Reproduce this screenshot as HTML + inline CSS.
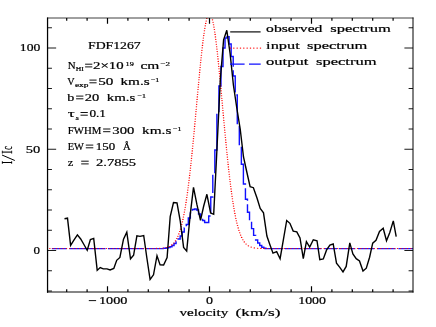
<!DOCTYPE html>
<html><head><meta charset="utf-8"><title>FDF1267 spectrum</title>
<style>html,body{margin:0;padding:0;background:#fff}svg{display:block;will-change:transform}text{font-family:"Liberation Serif",serif;fill:#000;stroke:#000;stroke-width:0.19}</style></head><body>
<svg width="436" height="327" viewBox="0 0 436 327">
<rect width="436" height="327" fill="#fff"/>
<defs><clipPath id="c"><rect x="47.55" y="18.00" width="365.45" height="274.00"/></clipPath></defs>
<g fill="none" stroke="#1010ff" stroke-width="1.2">
<line x1="51.80" y1="248.65" x2="66.80" y2="248.65"/>
<line x1="69.30" y1="248.65" x2="105.50" y2="248.65"/>
<line x1="108.00" y1="248.65" x2="144.00" y2="248.65"/>
<line x1="146.50" y1="248.65" x2="163.84" y2="248.65"/>
<line x1="264.34" y1="248.65" x2="283.00" y2="248.65"/>
<line x1="284.80" y1="248.65" x2="301.80" y2="248.65"/>
<line x1="304.00" y1="248.65" x2="321.50" y2="248.65"/>
<line x1="324.20" y1="248.65" x2="337.00" y2="248.65"/>
<line x1="338.80" y1="248.65" x2="355.30" y2="248.65"/>
<line x1="358.00" y1="248.65" x2="374.50" y2="248.65"/>
<line x1="377.00" y1="248.65" x2="395.60" y2="248.65"/>
<line x1="398.40" y1="248.65" x2="413.00" y2="248.65"/>
</g>
<path fill="none" stroke="#1010ff" stroke-width="1.4" stroke-dasharray="19.6 3.5 18.2 3.5 18.2 3.5 18.2 3.5 18.2 3.5 18.2 3.5 18.2 3.5 61.6 3.5 119.9 3.5 24.4 3.5 30.2 3.5 19.7 3.5 41.9 3.5 14.6 3.5 18.1 3.5 18.2 3.5 200 0" d="M163.84,248.65 L163.84,248.30 L165.88,248.30 L165.88,248.00 L167.92,248.00 L167.92,247.50 L169.96,247.50 L169.96,246.80 L172.00,246.80 L172.00,245.50 L174.04,245.50 L174.04,243.50 L176.08,243.50 L176.08,241.50 L178.12,241.50 L178.12,239.00 L180.16,239.00 L180.16,236.00 L182.20,236.00 L182.20,232.00 L184.24,232.00 L184.24,228.00 L186.28,228.00 L186.28,224.50 L188.32,224.50 L188.32,218.00 L190.36,218.00 L190.36,213.00 L192.40,213.00 L192.40,209.50 L194.44,209.50 L194.44,209.00 L196.48,209.00 L196.48,210.00 L198.52,210.00 L198.52,214.00 L200.56,214.00 L200.56,217.50 L202.60,217.50 L202.60,220.50 L204.64,220.50 L204.64,222.50 L206.68,222.50 L206.68,222.50 L208.72,222.50 L208.72,216.00 L210.76,216.00 L210.76,197.00 L212.80,197.00 L212.80,174.00 L214.84,174.00 L214.84,150.00 L216.88,150.00 L216.88,113.00 L218.92,113.00 L218.92,86.00 L220.96,86.00 L220.96,66.50 L223.00,66.50 L223.00,48.00 L225.04,48.00 L225.04,38.00 L227.08,38.00 L227.08,36.70 L229.12,36.70 L229.12,44.00 L231.16,44.00 L231.16,56.50 L233.20,56.50 L233.20,76.00 L235.24,76.00 L235.24,95.00 L237.28,95.00 L237.28,125.00 L239.32,125.00 L239.32,146.00 L241.36,146.00 L241.36,164.30 L243.40,164.30 L243.40,184.00 L245.44,184.00 L245.44,199.20 L247.48,199.20 L247.48,212.20 L249.52,212.20 L249.52,220.50 L251.56,220.50 L251.56,228.60 L253.60,228.60 L253.60,235.40 L255.64,235.40 L255.64,240.00 L257.68,240.00 L257.68,243.00 L259.72,243.00 L259.72,245.50 L261.76,245.50 L261.76,247.30 L263.80,247.30 L263.80,248.30 L265.84,248.30 L265.84,248.65"/>
<path transform="scale(1.354,1)" fill="none" stroke="#ff0000" stroke-width="1.15" stroke-linecap="round" d="M36.82,248.5h0M39.28,248.5h0M41.74,248.5h0M44.20,248.5h0M46.66,248.5h0M49.12,248.5h0M51.58,248.5h0M54.04,248.5h0M56.50,248.5h0M58.96,248.5h0M61.42,248.5h0M63.88,248.5h0M66.34,248.5h0M68.80,248.5h0M71.26,248.5h0M73.72,248.5h0M76.18,248.5h0M78.64,248.5h0M81.10,248.5h0M83.56,248.5h0M86.02,248.5h0M88.48,248.5h0M90.94,248.5h0M93.40,248.5h0M95.86,248.5h0M98.32,248.5h0M100.78,248.5h0M103.24,248.5h0M105.70,248.5h0M108.16,248.5h0M110.62,248.5h0M113.08,248.5h0M115.54,248.4h0M118.00,248.3h0M120.44,248.1h0M122.84,247.5h0M125.06,246.5h0M126.94,244.9h0M128.43,243.0h0M129.61,240.8h0M130.58,238.5h0M131.39,236.2h0M132.10,233.9h0M132.72,231.5h0M133.28,229.1h0M133.79,226.7h0M134.26,224.3h0M134.69,221.8h0M135.10,219.4h0M135.48,217.0h0M135.84,214.6h0M136.18,212.1h0M136.51,209.7h0M136.82,207.2h0M137.11,204.8h0M137.40,202.4h0M137.68,199.9h0M137.95,197.5h0M138.21,195.0h0M138.46,192.6h0M138.70,190.1h0M138.94,187.7h0M139.17,185.2h0M139.40,182.8h0M139.62,180.3h0M139.84,177.9h0M140.05,175.4h0M140.26,173.0h0M140.47,170.5h0M140.67,168.1h0M140.87,165.6h0M141.06,163.2h0M141.25,160.7h0M141.44,158.3h0M141.63,155.8h0M141.82,153.4h0M142.00,150.9h0M142.18,148.5h0M142.36,146.0h0M142.54,143.5h0M142.71,141.1h0M142.89,138.6h0M143.06,136.2h0M143.23,133.7h0M143.40,131.3h0M143.57,128.8h0M143.74,126.4h0M143.91,123.9h0M144.08,121.5h0M144.25,119.0h0M144.41,116.5h0M144.58,114.1h0M144.75,111.6h0M144.91,109.2h0M145.08,106.7h0M145.24,104.3h0M145.41,101.8h0M145.57,99.4h0M145.74,96.9h0M145.91,94.5h0M146.07,92.0h0M146.24,89.5h0M146.41,87.1h0M146.58,84.6h0M146.75,82.2h0M146.92,79.7h0M147.09,77.3h0M147.26,74.8h0M147.44,72.4h0M147.62,69.9h0M147.80,67.5h0M147.98,65.0h0M148.16,62.6h0M148.35,60.1h0M148.54,57.7h0M148.73,55.2h0M148.93,52.7h0M149.13,50.3h0M149.34,47.8h0M149.55,45.4h0M149.76,42.9h0M149.99,40.5h0M150.22,38.0h0M150.47,35.6h0M150.72,33.2h0M150.99,30.7h0M151.28,28.3h0M151.59,25.8h0M151.92,23.4h0M152.30,21.0h0M152.74,18.5h0M156.95,19.8h0M157.36,22.2h0M157.71,24.7h0M158.03,27.1h0M158.33,29.5h0M158.60,32.0h0M158.87,34.4h0M159.11,36.9h0M159.35,39.3h0M159.58,41.8h0M159.80,44.2h0M160.02,46.7h0M160.23,49.1h0M160.43,51.6h0M160.63,54.0h0M160.82,56.5h0M161.02,58.9h0M161.20,61.4h0M161.39,63.8h0M161.57,66.3h0M161.75,68.7h0M161.93,71.2h0M162.11,73.6h0M162.28,76.1h0M162.45,78.6h0M162.63,81.0h0M162.80,83.5h0M162.96,85.9h0M163.13,88.4h0M163.30,90.8h0M163.47,93.3h0M163.63,95.7h0M163.80,98.2h0M163.97,100.6h0M164.13,103.1h0M164.30,105.6h0M164.46,108.0h0M164.63,110.5h0M164.79,112.9h0M164.96,115.4h0M165.13,117.8h0M165.29,120.3h0M165.46,122.7h0M165.63,125.2h0M165.80,127.6h0M165.97,130.1h0M166.14,132.5h0M166.31,135.0h0M166.48,137.5h0M166.66,139.9h0M166.83,142.4h0M167.01,144.8h0M167.19,147.3h0M167.37,149.7h0M167.55,152.2h0M167.73,154.6h0M167.92,157.1h0M168.11,159.5h0M168.30,162.0h0M168.49,164.4h0M168.69,166.9h0M168.89,169.3h0M169.09,171.8h0M169.30,174.2h0M169.51,176.7h0M169.73,179.2h0M169.95,181.6h0M170.17,184.1h0M170.40,186.5h0M170.64,188.9h0M170.88,191.4h0M171.13,193.8h0M171.38,196.3h0M171.64,198.7h0M171.92,201.2h0M172.20,203.6h0M172.49,206.1h0M172.80,208.5h0M173.12,210.9h0M173.45,213.4h0M173.80,215.8h0M174.17,218.3h0M174.56,220.7h0M174.98,223.1h0M175.43,225.5h0M175.92,227.9h0M176.46,230.3h0M177.05,232.7h0M177.71,235.1h0M178.47,237.4h0M179.36,239.7h0M180.43,241.9h0M181.75,244.0h0M183.44,245.8h0M185.51,247.1h0M187.85,247.9h0M190.28,248.2h0M192.73,248.4h0M195.19,248.4h0M197.65,248.5h0M200.11,248.5h0M202.57,248.5h0M205.03,248.5h0M207.49,248.5h0M209.95,248.5h0M212.41,248.5h0M214.87,248.5h0M217.33,248.5h0M219.79,248.5h0M222.25,248.5h0M224.71,248.5h0M227.17,248.5h0M229.63,248.5h0M232.09,248.5h0M234.55,248.5h0M237.01,248.5h0M239.47,248.5h0M241.93,248.5h0M244.39,248.5h0M246.85,248.5h0M249.31,248.5h0M251.77,248.5h0M254.23,248.5h0M256.69,248.5h0M259.15,248.5h0M261.61,248.5h0M264.07,248.5h0M266.53,248.5h0M268.99,248.5h0M271.45,248.5h0M273.91,248.5h0M276.37,248.5h0M278.83,248.5h0M281.29,248.5h0M283.75,248.5h0M286.21,248.5h0M288.67,248.5h0M291.13,248.5h0M293.59,248.5h0M296.05,248.5h0M298.51,248.5h0M300.97,248.5h0M303.43,248.5h0"/>
<g transform="scale(1,1)" fill="none" stroke="#000">
<polyline stroke-width="1.4" stroke-linejoin="miter" points="64.500,218.80 67.500,218.20 70.600,245.40 73.900,240.20 77.400,234.90 80.700,239.00 83.900,244.50 87.200,250.30 90.400,239.50 93.700,238.40 97.200,270.40 100.200,267.60 103.300,268.90 107.000,268.90 110.100,270.00 113.800,268.50 116.700,260.30 119.900,257.50 123.500,239.20 126.800,232.20 130.500,258.80 133.600,255.30 136.900,235.90 140.000,236.40 143.700,235.50 146.800,257.50 150.100,279.50 153.500,274.80 157.000,255.70 160.100,264.90 163.600,265.00 167.100,257.50 170.200,216.70 173.500,202.60 177.000,202.90 180.300,221.30 183.600,247.40 186.700,251.10 190.200,214.90 193.500,187.30 196.900,204.40 200.500,220.40 203.700,206.00 206.900,194.30 210.600,213.00 213.700,214.30 217.000,148.00 220.300,80.00 223.600,39.90 226.800,30.30 230.100,53.50 233.400,85.00 236.800,108.00 240.200,129.00 243.500,157.00 246.800,172.00 250.100,186.70 253.400,187.70 257.000,198.00 260.200,208.50 263.500,212.80 266.900,236.10 270.000,245.00 273.000,253.20 276.700,251.70 280.100,258.70 283.400,239.60 286.700,220.50 289.900,223.30 293.200,231.10 296.800,231.90 300.000,237.90 303.300,258.70 306.400,241.60 309.700,247.10 313.300,239.80 317.000,240.70 319.800,259.60 323.300,259.00 326.600,249.90 329.900,245.00 333.200,244.00 336.500,263.10 339.800,267.30 343.000,271.90 346.200,266.40 349.800,242.90 352.900,253.90 356.200,258.70 359.500,260.90 363.000,271.00 366.300,268.20 369.600,257.20 372.700,243.10 376.000,240.30 379.500,231.50 383.200,228.20 386.500,240.70 389.800,232.40 393.300,220.90 396.200,236.70"/>
<line stroke-width="1.15" x1="230.200" y1="31.9" x2="260.600" y2="31.9"/>
<path stroke-width="0.75" stroke-linecap="square" d="M47.55,18.00 H413.00"/>
<path stroke-width="0.95" stroke-linecap="square" d="M47.55,292.00 H413.00"/>
<path stroke-width="1.25" stroke-linecap="square" d="M47.55,18.00 V292.00"/>
<path stroke-width="1.0" stroke-linecap="square" d="M413.00,18.00 V292.00"/>
<path stroke-width="1.2" d="M66.70,292.00V289.20M66.70,18.00V20.80M87.10,292.00V289.20M87.10,18.00V20.80M107.50,292.00V286.30M107.50,18.00V23.70M127.90,292.00V289.20M127.90,18.00V20.80M148.30,292.00V289.20M148.30,18.00V20.80M168.70,292.00V289.20M168.70,18.00V20.80M189.10,292.00V289.20M189.10,18.00V20.80M209.50,292.00V286.30M209.50,18.00V23.70M229.90,292.00V289.20M229.90,18.00V20.80M250.30,292.00V289.20M250.30,18.00V20.80M270.70,292.00V289.20M270.70,18.00V20.80M291.10,292.00V289.20M291.10,18.00V20.80M311.50,292.00V286.30M311.50,18.00V23.70M331.90,292.00V289.20M331.90,18.00V20.80M352.30,292.00V289.20M352.30,18.00V20.80M372.70,292.00V289.20M372.70,18.00V20.80M393.10,292.00V289.20M393.10,18.00V20.80"/>
<path stroke-width="0.9" d="M47.55,291.00H51.95M413.00,291.00H408.60M47.55,270.75H51.95M413.00,270.75H408.60M47.55,250.50H56.15M413.00,250.50H404.40M47.55,230.25H51.95M413.00,230.25H408.60M47.55,210.00H51.95M413.00,210.00H408.60M47.55,189.75H51.95M413.00,189.75H408.60M47.55,169.50H51.95M413.00,169.50H408.60M47.55,149.25H56.15M413.00,149.25H404.40M47.55,129.00H51.95M413.00,129.00H408.60M47.55,108.75H51.95M413.00,108.75H408.60M47.55,88.50H51.95M413.00,88.50H408.60M47.55,68.25H51.95M413.00,68.25H408.60M47.55,48.00H56.15M413.00,48.00H404.40M47.55,27.75H51.95M413.00,27.75H408.60"/>
</g>
<path transform="scale(1.354,1)" fill="none" stroke="#ff0000" stroke-width="1.15" stroke-linecap="round" d="M170.24,48.05h0M172.70,48.05h0M175.16,48.05h0M177.61,48.05h0M180.07,48.05h0M182.53,48.05h0M184.99,48.05h0M187.45,48.05h0M189.91,48.05h0M192.37,48.05h0"/>
<path fill="none" stroke="#1010ff" stroke-width="1.3" d="M230.0,64.2 H244.6 M249.0,64.2 H260.7"/>
<text transform="translate(88.00,48.50) scale(1.5,1)" font-size="9.5" textLength="35.13" lengthAdjust="spacingAndGlyphs">FDF1267</text>
<text transform="translate(67.70,68.70) scale(1.5,1)" font-size="9.5" textLength="5.27" lengthAdjust="spacingAndGlyphs">N</text>
<text transform="translate(75.80,71.40) scale(1.5,1)" font-size="6.2" stroke-width="0.32" textLength="5.40" lengthAdjust="spacingAndGlyphs">HI</text>
<path fill="none" stroke="#111" stroke-width="1.0" d="M85.10,64.20 H92.30 M85.10,66.90 H92.30"/>
<text transform="translate(93.00,68.70) scale(1.5,1)" font-size="9.5" textLength="20.40" lengthAdjust="spacingAndGlyphs">2×10</text>
<text transform="translate(125.50,65.60) scale(1.5,1)" font-size="6.2" stroke-width="0.32" textLength="5.53" lengthAdjust="spacingAndGlyphs">19</text>
<text transform="translate(140.50,68.70) scale(1.5,1)" font-size="9.5" textLength="12.60" lengthAdjust="spacingAndGlyphs">cm</text>
<text transform="translate(160.40,66.30) scale(1.5,1)" font-size="6.2" stroke-width="0.32" textLength="6.40" lengthAdjust="spacingAndGlyphs">−2</text>
<text transform="translate(67.30,84.60) scale(1.5,1)" font-size="9.5" textLength="4.93" lengthAdjust="spacingAndGlyphs">V</text>
<text transform="translate(74.90,87.20) scale(1.5,1)" font-size="6.2" stroke-width="0.32" textLength="9.00" lengthAdjust="spacingAndGlyphs">exp</text>
<path fill="none" stroke="#111" stroke-width="1.0" d="M89.40,80.10 H96.60 M89.40,82.80 H96.60"/>
<text transform="translate(98.20,84.60) scale(1.5,1)" font-size="9.5" textLength="10.13" lengthAdjust="spacingAndGlyphs">50</text>
<text transform="translate(120.50,84.60) scale(1.5,1)" font-size="9.5" textLength="19.47" lengthAdjust="spacingAndGlyphs">km.s</text>
<text transform="translate(150.90,82.20) scale(1.5,1)" font-size="6.2" stroke-width="0.32" textLength="5.60" lengthAdjust="spacingAndGlyphs">−1</text>
<text transform="translate(67.30,100.60) scale(1.5,1)" font-size="9.5" textLength="4.67" lengthAdjust="spacingAndGlyphs">b</text>
<path fill="none" stroke="#111" stroke-width="1.0" d="M76.10,96.10 H83.40 M76.10,98.80 H83.40"/>
<text transform="translate(84.80,100.60) scale(1.5,1)" font-size="9.5" textLength="9.67" lengthAdjust="spacingAndGlyphs">20</text>
<text transform="translate(106.80,100.60) scale(1.5,1)" font-size="9.5" textLength="19.07" lengthAdjust="spacingAndGlyphs">km.s</text>
<text transform="translate(137.50,98.40) scale(1.5,1)" font-size="6.2" stroke-width="0.32" textLength="5.60" lengthAdjust="spacingAndGlyphs">−1</text>
<text transform="translate(67.70,117.00) scale(1.5,1)" font-size="9.5" textLength="4.67" lengthAdjust="spacingAndGlyphs">τ</text>
<text transform="translate(75.60,119.60) scale(1.5,1)" font-size="6.2" stroke-width="0.32" textLength="2.20" lengthAdjust="spacingAndGlyphs">a</text>
<path fill="none" stroke="#111" stroke-width="1.0" d="M80.50,112.50 H87.80 M80.50,115.20 H87.80"/>
<text transform="translate(89.40,117.00) scale(1.5,1)" font-size="9.5" textLength="11.00" lengthAdjust="spacingAndGlyphs">0.1</text>
<text transform="translate(67.70,133.50) scale(1.5,1)" font-size="9.5" textLength="22.40" lengthAdjust="spacingAndGlyphs">FWHM</text>
<path fill="none" stroke="#111" stroke-width="1.0" d="M103.10,129.00 H110.40 M103.10,131.70 H110.40"/>
<text transform="translate(112.30,133.50) scale(1.5,1)" font-size="9.5" textLength="14.67" lengthAdjust="spacingAndGlyphs">300</text>
<text transform="translate(142.00,133.50) scale(1.5,1)" font-size="9.5" textLength="19.60" lengthAdjust="spacingAndGlyphs">km.s</text>
<text transform="translate(172.90,131.30) scale(1.5,1)" font-size="6.2" stroke-width="0.32" textLength="5.67" lengthAdjust="spacingAndGlyphs">−1</text>
<text transform="translate(67.70,149.60) scale(1.5,1)" font-size="9.5" textLength="10.80" lengthAdjust="spacingAndGlyphs">EW</text>
<path fill="none" stroke="#111" stroke-width="1.0" d="M85.80,145.10 H93.30 M85.80,147.80 H93.30"/>
<text transform="translate(95.80,149.60) scale(1.5,1)" font-size="9.5" textLength="12.93" lengthAdjust="spacingAndGlyphs">150</text>
<text transform="translate(122.90,149.60) scale(1.5,1)" font-size="9.5" textLength="5.13" lengthAdjust="spacingAndGlyphs">Å</text>
<text transform="translate(67.70,165.70) scale(1.5,1)" font-size="9.5" textLength="3.67" lengthAdjust="spacingAndGlyphs">z</text>
<path fill="none" stroke="#111" stroke-width="1.0" d="M81.20,161.20 H88.70 M81.20,163.90 H88.70"/>
<text transform="translate(96.10,165.70) scale(1.5,1)" font-size="9.5" textLength="26.67" lengthAdjust="spacingAndGlyphs">2.7855</text>
<text transform="translate(266.10,32.40) scale(1.5,1)" font-size="10" textLength="37.53" lengthAdjust="spacingAndGlyphs">observed</text>
<text transform="translate(330.30,32.40) scale(1.5,1)" font-size="10" textLength="40.40" lengthAdjust="spacingAndGlyphs">spectrum</text>
<text transform="translate(266.10,48.50) scale(1.5,1)" font-size="10" textLength="22.40" lengthAdjust="spacingAndGlyphs">input</text>
<text transform="translate(307.00,48.50) scale(1.5,1)" font-size="10" textLength="40.27" lengthAdjust="spacingAndGlyphs">spectrum</text>
<text transform="translate(266.10,64.60) scale(1.5,1)" font-size="10" textLength="28.13" lengthAdjust="spacingAndGlyphs">output</text>
<text transform="translate(316.00,64.60) scale(1.5,1)" font-size="10" textLength="40.40" lengthAdjust="spacingAndGlyphs">spectrum</text>
<text transform="translate(19.80,50.90) scale(1.5,1)" font-size="10" textLength="13.67" lengthAdjust="spacingAndGlyphs">100</text>
<text transform="translate(25.80,153.00) scale(1.5,1)" font-size="10" textLength="9.67" lengthAdjust="spacingAndGlyphs">50</text>
<text transform="translate(33.50,254.20) scale(1.5,1)" font-size="10" textLength="4.33" lengthAdjust="spacingAndGlyphs">0</text>
<line x1="88.8" y1="300.6" x2="96.1" y2="300.6" stroke="#111" stroke-width="1.0"/>
<text transform="translate(98.90,303.90) scale(1.5,1)" font-size="10" textLength="19.00" lengthAdjust="spacingAndGlyphs">1000</text>
<text transform="translate(206.10,303.60) scale(1.5,1)" font-size="10" textLength="4.67" lengthAdjust="spacingAndGlyphs">0</text>
<text transform="translate(298.20,303.60) scale(1.5,1)" font-size="10" textLength="18.53" lengthAdjust="spacingAndGlyphs">1000</text>
<text transform="translate(179.50,315.60) scale(1.5,1)" font-size="10" textLength="32.53" lengthAdjust="spacingAndGlyphs">velocity</text>
<text transform="translate(235.60,315.60) scale(1.5,1)" font-size="10" textLength="29.93" lengthAdjust="spacingAndGlyphs">(km/s)</text>
<text transform="translate(12.4,163.90) rotate(-90) scale(1,1.5)" font-size="9.5" textLength="3.00" lengthAdjust="spacingAndGlyphs">I</text>
<text transform="translate(12.4,153.70) rotate(-90) scale(1,1.5)" font-size="9.5" textLength="3.30" lengthAdjust="spacingAndGlyphs">I</text>
<text transform="translate(12.4,149.80) rotate(-90) scale(1,1.5)" font-size="9.5" textLength="3.50" lengthAdjust="spacingAndGlyphs">c</text>
<line x1="2.0" y1="155.0" x2="14.8" y2="160.5" stroke="#000" stroke-width="1.0"/>
</svg></body></html>
